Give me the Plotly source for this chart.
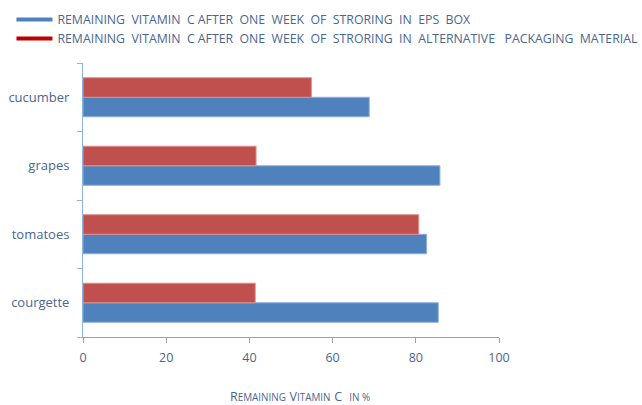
import plotly.graph_objects as go

# Produce items, listed bottom to top on the category axis
produce = ["courgette", "tomatoes", "grapes", "cucumber"]

# Remaining vitamin C (%) after one week of storage
eps_box = [85.4, 82.6, 85.8, 68.8]
alternative_pack = [41.4, 80.7, 41.6, 54.9]

eps_name = "REMAINING  VITAMIN  C AFTER  ONE  WEEK  OF  STRORING  IN  EPS  BOX"
alt_name = "REMAINING  VITAMIN  C AFTER  ONE  WEEK  OF  STRORING  IN  ALTERNATIVE   PACKAGING  MATERIAL"

x_ticks = [0, 20, 40, 60, 80, 100]

BLUE = "#4F81BD"
RED = "#C0504D"
TEXT = "#4A6690"

fig = go.Figure()

fig.add_trace(go.Bar(
    y=produce, x=eps_box, orientation="h", name=eps_name,
    marker=dict(color=BLUE, line=dict(color="#8DB0DC", width=1)),
    showlegend=False,
))
fig.add_trace(go.Bar(
    y=produce, x=alternative_pack, orientation="h", name=alt_name,
    marker=dict(color=RED, line=dict(color="#E08E8C", width=1)),
    showlegend=False,
))

# Line-style legend keys (single point, so no line is drawn in the plot)
fig.add_trace(go.Scatter(x=[0], y=[produce[0]], mode="lines", name=eps_name,
                         line=dict(color=BLUE, width=4), hoverinfo="skip"))
fig.add_trace(go.Scatter(x=[0], y=[produce[0]], mode="lines", name=alt_name,
                         line=dict(color="#C00000", width=4), hoverinfo="skip"))

BIG = "font-size:12.5px"
SMALL = "font-size:9.9px"
# small-caps axis title, padded on the left to sit slightly right of centre
axis_title = (
    "&nbsp;&nbsp;&nbsp;&nbsp;&nbsp;"
    f"<span style='{BIG}'>R</span><span style='{SMALL}'>EMAINING</span> "
    f"<span style='{BIG}'>V</span><span style='{SMALL}'>ITAMIN</span> "
    f"<span style='{BIG}'>C</span>  "
    f"<span style='{SMALL}'>IN %</span>"
)

fig.update_layout(
    width=642, height=405,
    margin=dict(l=83, r=143, t=63, b=68, autoexpand=False),
    paper_bgcolor="white", plot_bgcolor="white",
    barmode="group", bargap=0.43, bargroupgap=0,
    font=dict(family="Open Sans, sans-serif", color=TEXT, size=12),
    legend=dict(
        x=-0.172, y=1.212,
        xanchor="left", yanchor="top",
        font=dict(size=12.3, color=TEXT),
        itemwidth=36, tracegroupgap=0,
        bgcolor="rgba(0,0,0,0)",
    ),
    xaxis=dict(
        range=[0, 100], tickvals=x_ticks, ticktext=[str(v) for v in x_ticks],
        showgrid=False, zeroline=False,
        showline=True, linecolor="#A0A0A0", linewidth=1,
        ticks="outside", ticklen=5, tickcolor="#A0A0A0",
        ticklabelstandoff=4,
        tickfont=dict(size=12.5, color=TEXT),
        title=dict(text=axis_title, standoff=30, font=dict(color=TEXT)),
    ),
    yaxis=dict(
        type="category",
        categoryorder="array", categoryarray=produce,
        range=[-0.5, len(produce) - 0.5],
        showgrid=False, zeroline=False,
        showline=True, linecolor="#8EB4E3", linewidth=1,
        ticks="outside", ticklen=5, tickcolor="#8EB4E3",
        tickson="boundaries",
        ticklabelstandoff=10,
        tickfont=dict(size=13, color=TEXT),
    ),
)

fig.write_html("out.html")
